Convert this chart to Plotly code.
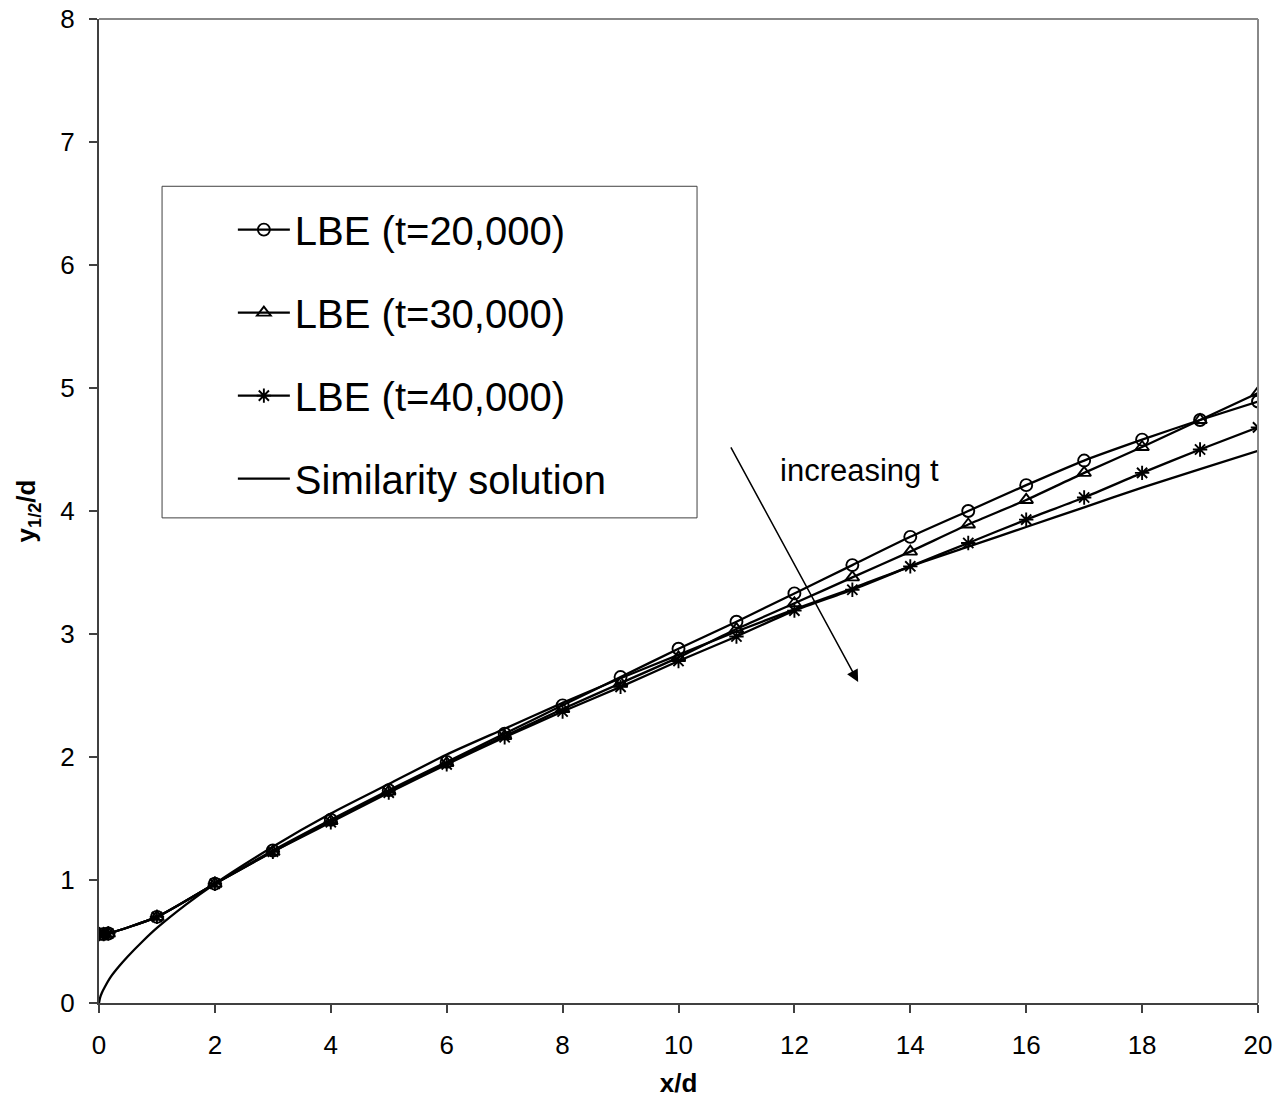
import plotly.graph_objects as go

# ---- data ----
x_lbe = [0, 0.08, 0.16, 1, 2, 3, 4, 5, 6, 7, 8, 9, 10, 11, 12, 13, 14, 15, 16, 17, 18, 19, 20]
y_t20 = [0.56, 0.56, 0.565, 0.70, 0.97, 1.24, 1.49, 1.73, 1.96, 2.19, 2.42, 2.65, 2.88, 3.10, 3.33,
         3.56, 3.79, 4.00, 4.21, 4.41, 4.58, 4.74, 4.89]
y_t30 = [0.56, 0.56, 0.565, 0.70, 0.97, 1.23, 1.48, 1.72, 1.95, 2.17, 2.39, 2.60, 2.81, 3.04, 3.25,
         3.46, 3.67, 3.89, 4.09, 4.31, 4.52, 4.74, 4.96]
y_t40 = [0.56, 0.56, 0.565, 0.70, 0.97, 1.23, 1.47, 1.71, 1.94, 2.16, 2.37, 2.57, 2.78, 2.98, 3.19,
         3.36, 3.55, 3.74, 3.93, 4.11, 4.31, 4.50, 4.68]

x_sim = [0, 0.02, 0.05, 0.1, 0.2, 0.35, 0.5, 0.75, 1, 1.5, 2, 3, 4, 5, 6, 7, 8, 9, 10,
         11, 12, 13, 14, 15, 16, 17, 18, 19, 20]
y_sim = [0, 0.045, 0.083, 0.13, 0.21, 0.30, 0.38, 0.50, 0.61, 0.80, 0.97, 1.27, 1.54, 1.78, 2.02,
         2.23, 2.44, 2.64, 2.83, 3.02, 3.20, 3.37, 3.55, 3.71, 3.87, 4.03, 4.19, 4.34, 4.49]

names = ["LBE (t=20,000)", "LBE (t=30,000)", "LBE (t=40,000)", "Similarity solution"]
symbols = ["circle-open", "triangle-up-open", "asterisk-open"]

FONT = "Liberation Sans, Arial, sans-serif"

fig = go.Figure()
for i, yv in enumerate([y_t20, y_t30, y_t40]):
    fig.add_trace(go.Scatter(
        x=x_lbe, y=yv, name=names[i], mode="lines+markers",
        line=dict(color="black", width=2.3, shape="spline", smoothing=0.6),
        marker=dict(symbol=symbols[i], size=12, color="black", line=dict(color="black", width=1.9)),
        legendgroup=f"g{i}",
    ))
fig.add_trace(go.Scatter(
    x=x_sim, y=y_sim, name=names[3], mode="lines",
    line=dict(color="black", width=2.3, shape="spline", smoothing=0.6),
    legendgroup="g3",
))

# legend frame
fig.add_shape(type="rect", xref="paper", yref="paper",
              x0=0.0544, x1=0.516, y0=0.493, y1=0.830,
              line=dict(color="#404040", width=1), fillcolor="white", layer="below")

fig.add_annotation(x=13.10, y=2.61, ax=10.89, ay=4.53, xref="x", yref="y", axref="x", ayref="y",
                   showarrow=True, arrowhead=2, arrowsize=1.6, arrowwidth=1.5, arrowcolor="black", text="")
fig.add_annotation(x=11.72, y=4.33, xref="x", yref="y", text="increasing t", showarrow=False,
                   xanchor="left", yanchor="middle", font=dict(size=31, color="black", family=FONT))

fig.update_layout(
    width=1288, height=1113,
    margin=dict(l=99, r=30, t=19, b=110),
    paper_bgcolor="white", plot_bgcolor="white",
    font=dict(family=FONT, color="black", size=26),
    legend=dict(x=0.1155, y=0.819, xanchor="left", yanchor="top",
                bgcolor="rgba(0,0,0,0)", borderwidth=0,
                font=dict(size=40, family=FONT, color="black"),
                tracegroupgap=28, itemwidth=52, traceorder="grouped"),
    xaxis=dict(range=[0, 20], tickvals=[0, 2, 4, 6, 8, 10, 12, 14, 16, 18, 20],
               ticks="outside", ticklen=8, tickcolor="#404040", tickwidth=1.5,
               showline=True, linecolor="#404040", linewidth=2, mirror=False,
               showgrid=False, zeroline=False, automargin=False,
               tickfont=dict(size=26), ticklabelstandoff=10,
               title=dict(text="<b>x/d</b>", font=dict(size=26), standoff=15)),
    yaxis=dict(range=[0, 8], tickvals=[0, 1, 2, 3, 4, 5, 6, 7, 8],
               ticks="outside", ticklen=8, tickcolor="#404040", tickwidth=1.5,
               showline=True, linecolor="#404040", linewidth=2, mirror=False,
               showgrid=False, zeroline=False, automargin=False,
               tickfont=dict(size=26), ticklabelstandoff=9,
               title=dict(text="<b>y<sub>1/2</sub>/d</b>", font=dict(size=26), standoff=17)),
)
# top/right gray frame
fig.add_shape(type="line", xref="paper", yref="paper", x0=0, x1=1, y0=1, y1=1,
              line=dict(color="#888888", width=2))
fig.add_shape(type="line", xref="paper", yref="paper", x0=1, x1=1, y0=0, y1=1,
              line=dict(color="#888888", width=2))

fig.write_html("out.html")
